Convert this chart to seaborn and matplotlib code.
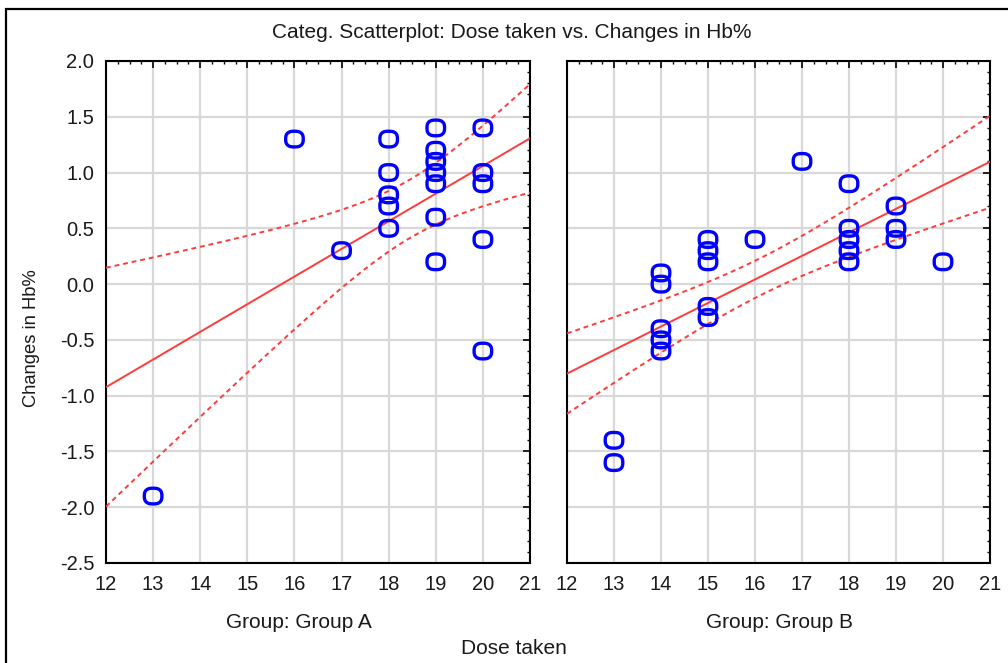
import math
import numpy as np
import pandas as pd
import matplotlib
matplotlib.use("Agg")
import matplotlib.pyplot as plt
from matplotlib.path import Path
from matplotlib.patches import Rectangle
from matplotlib.ticker import MultipleLocator, FormatStrFormatter
import seaborn as sns

# Dose taken / change in Hb% per patient, by group
dose_a = [13, 16, 17, 18, 18, 18, 18, 18, 19, 19, 19, 19, 19, 19, 19, 20, 20, 20, 20, 20]
hb_a = [-1.9, 1.3, 0.3, 1.3, 1.0, 0.8, 0.7, 0.5, 1.4, 1.2, 1.1, 1.0, 0.9, 0.6, 0.2, 1.4, 1.0, 0.9, 0.4, -0.6]

dose_b = [13, 13, 14, 14, 14, 14, 14, 15, 15, 15, 15, 15, 16, 17, 18, 18, 18, 18, 18, 19, 19, 19, 20]
hb_b = [-1.4, -1.6, 0.1, 0.0, -0.4, -0.5, -0.6, 0.4, 0.3, 0.2, -0.2, -0.3, 0.4, 1.1, 0.9, 0.5, 0.4, 0.3, 0.2, 0.7, 0.5, 0.4, 0.2]

group_names = ["Group A", "Group B"]
title = "Categ. Scatterplot: Dose taken vs. Changes in Hb%"
x_label = "Dose taken"
y_label = "Changes in Hb%"
band_level = 0.90

df = pd.concat([
    pd.DataFrame({"dose": dose_a, "hb": hb_a, "group": group_names[0]}),
    pd.DataFrame({"dose": dose_b, "hb": hb_b, "group": group_names[1]}),
], ignore_index=True)


def t_quantile(p, dof):
    """Student t quantile by numeric integration of the density."""
    xs = np.linspace(0.0, 12.0, 240001)
    c = math.gamma((dof + 1) / 2) / (math.sqrt(dof * math.pi) * math.gamma(dof / 2))
    pdf = c * (1 + xs ** 2 / dof) ** (-(dof + 1) / 2)
    cdf = 0.5 + np.concatenate([[0.0], np.cumsum((pdf[1:] + pdf[:-1]) / 2 * np.diff(xs))])
    return float(np.interp(p, cdf, xs))


def mean_ci_band(x, y, grid, level):
    x = np.asarray(x, float)
    y = np.asarray(y, float)
    n = len(x)
    slope, intercept = np.polyfit(x, y, 1)
    resid = y - (intercept + slope * x)
    s = math.sqrt(np.sum(resid ** 2) / (n - 2))
    sxx = np.sum((x - x.mean()) ** 2)
    t = t_quantile(0.5 + level / 2, n - 2)
    fit = intercept + slope * grid
    half = t * s * np.sqrt(1.0 / n + (grid - x.mean()) ** 2 / sxx)
    return fit - half, fit + half


sns.set_theme(style="white")
plt.rcParams["font.family"] = ["Liberation Sans", "DejaVu Sans"]
plt.rcParams["axes.unicode_minus"] = False

text_color = "#1a1a1a"
point_color = "#0000ff"
fit_color = "#ff3b3b"
grid_color = "#d8d8d8"

# rounded "O" marker, a little wider than tall
theta = np.linspace(0, 2 * np.pi, 97)
ex = 1.12 * np.sign(np.cos(theta)) * np.abs(np.cos(theta)) ** 0.75
ey = 1.0 * np.sign(np.sin(theta)) * np.abs(np.sin(theta)) ** 0.75
o_marker = Path(np.column_stack([ex, ey]), closed=True)

fig = plt.figure(figsize=(10.08, 6.63), dpi=100)
fig.patch.set_facecolor("white")

W, H = 1008, 663
ax_specs = [(106, 530), (567, 990)]
top_px, bottom_px = 61, 563
axes = []
for l, r in ax_specs:
    ax = fig.add_axes([l / W, 1 - bottom_px / H, (r - l) / W, (bottom_px - top_px) / H],
                      sharey=axes[0] if axes else None)
    axes.append(ax)

for ax, name in zip(axes, group_names):
    sub = df[df["group"] == name]
    ax.set_xlim(12, 21)
    ax.set_ylim(-2.5, 2.0)
    ax.set_axisbelow(True)
    ax.grid(True, which="major", color=grid_color, linewidth=1.6)

    sns.scatterplot(data=sub, x="dose", y="hb", ax=ax, marker=o_marker, s=160,
                    fc="none", ec=point_color, linewidth=2.4, zorder=4, legend=False)
    sns.regplot(data=sub, x="dose", y="hb", ax=ax, scatter=False, ci=None,
                truncate=False, color=fit_color, line_kws={"linewidth": 1.4, "zorder": 3})

    grid = np.linspace(12, 21, 200)
    lo, hi = mean_ci_band(sub["dose"], sub["hb"], grid, band_level)
    for band in (lo, hi):
        ax.plot(grid, band, color=fit_color, linewidth=1.4, linestyle=(0, (2.5, 2.0)), zorder=3)

    ax.xaxis.set_major_locator(MultipleLocator(1))
    ax.xaxis.set_minor_locator(MultipleLocator(0.25))
    ax.yaxis.set_major_locator(MultipleLocator(0.5))
    ax.yaxis.set_minor_locator(MultipleLocator(0.1))
    ax.yaxis.set_major_formatter(FormatStrFormatter("%.1f"))
    ax.tick_params(which="both", direction="in", top=True, right=True, colors="black",
                   labelcolor=text_color)
    ax.tick_params(which="major", length=5, width=1.2, labelsize=14.5, pad=8.5)
    ax.tick_params(which="minor", length=2.5, width=1.0)
    for sp in ax.spines.values():
        sp.set_color("black")
        sp.set_linewidth(1.5)
    ax.set_xlabel("")
    ax.set_ylabel("")

axes[1].tick_params(labelleft=False)

fig.text(512 / W, 1 - 33 / H, title, ha="center", va="center", fontsize=15, color=text_color)
fig.text(299 / W, 1 - 622 / H, "Group: " + group_names[0], ha="center", va="center",
         fontsize=15, color=text_color)
fig.text(779 / W, 1 - 622 / H, "Group: " + group_names[1], ha="center", va="center",
         fontsize=15, color=text_color)
fig.text(514 / W, 1 - 648 / H, x_label, ha="center", va="center", fontsize=15, color=text_color)
fig.text(32 / W, 1 - 338 / H, y_label, ha="center", va="center", rotation=90,
         fontsize=13.2, color=text_color)

# outer frame of the graph window
fig.patches.append(Rectangle((6 / W, -0.05), 1.1, 1 - 9 / H + 0.05, transform=fig.transFigure,
                             fill=False, edgecolor="black", linewidth=1.6))

fig.savefig("out.png", dpi=100)
